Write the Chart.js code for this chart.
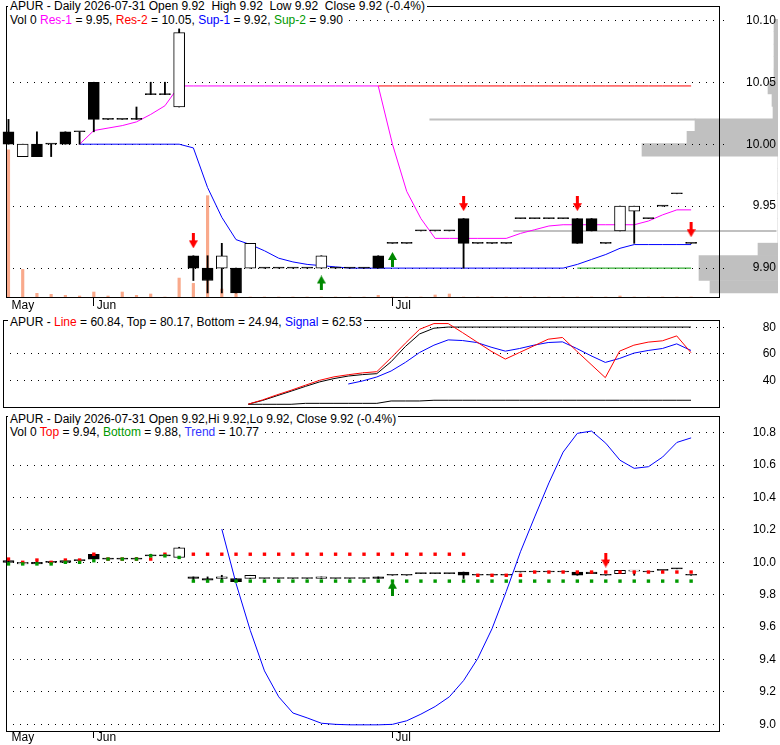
<!DOCTYPE html>
<html>
<head>
<meta charset="utf-8">
<script src="https://cdn.jsdelivr.net/npm/chart.js@4.4.1/dist/chart.umd.min.js"></script>
<style>
  body { margin: 0; background: #fff; }
  #wrap { position: relative; width: 780px; height: 745px; overflow: hidden;
          font-family: 'Liberation Sans', Arial, sans-serif; font-size: 12px; }
  canvas { position: absolute; left: 0; }
  .t { position: absolute; left: 8px; padding: 0 2px; background: #fff; color: #000;
       white-space: pre; line-height: 14px; font-size: 12px; }
</style>
</head>
<body>
<div id="wrap">
  <canvas id="prof" width="780" height="315" style="top:0"></canvas>
  <canvas id="c1" width="780" height="315" style="top:0"></canvas>
  <canvas id="c2" width="780" height="100" style="top:310px"></canvas>
  <canvas id="c3" width="780" height="335" style="top:410px"></canvas>
  <div class="t" id="t1a" style="top:-1px"></div>
  <div class="t" id="t1b" style="top:13px"></div>
  <div class="t" id="t2a" style="top:315px"></div>
  <div class="t" id="t3a" style="top:412px"></div>
  <div class="t" id="t3b" style="top:425px"></div>
</div>
<script>
const FONT = "'Liberation Sans', Arial, sans-serif";

// trading days
const dates = [
  '2026-05-21','2026-05-22','2026-05-26','2026-05-27','2026-05-28','2026-05-29',
  '2026-06-01','2026-06-02','2026-06-03','2026-06-04','2026-06-05',
  '2026-06-08','2026-06-09','2026-06-10','2026-06-11','2026-06-12',
  '2026-06-15','2026-06-16','2026-06-17','2026-06-18',
  '2026-06-22','2026-06-23','2026-06-24','2026-06-25','2026-06-26',
  '2026-06-29','2026-06-30',
  '2026-07-01','2026-07-02','2026-07-06','2026-07-07','2026-07-08','2026-07-09','2026-07-10',
  '2026-07-13','2026-07-14','2026-07-15','2026-07-16','2026-07-17',
  '2026-07-20','2026-07-21','2026-07-22','2026-07-23','2026-07-24',
  '2026-07-27','2026-07-28','2026-07-29','2026-07-30','2026-07-31'
];
const monthNames = ['Jan','Feb','Mar','Apr','May','Jun','Jul','Aug','Sep','Oct','Nov','Dec'];

// prices
const open = [10.01, 9.99, 10.00, 10.00, 10.01, 10.01, 10.05, 10.02, 10.02, 10.02, 10.04, 10.04, 10.03,
  9.91, 9.90, 9.90, 9.90, 9.90, 9.90, 9.90, 9.90, 9.90, 9.90, 9.90, 9.90, 9.90, 9.91,
  9.92, 9.92, 9.93, 9.93, 9.93, 9.94, 9.92, 9.92, 9.92, 9.94, 9.94, 9.94, 9.94, 9.94, 9.94, 9.92,
  9.93, 9.946, 9.94, 9.95, 9.96, 9.92];
const high = [10.02, 10.00, 10.01, 10.00, 10.01, 10.01, 10.05, 10.02, 10.02, 10.03, 10.05, 10.05, 10.093,
  9.91, 9.91, 9.92, 9.90, 9.92, 9.90, 9.90, 9.90, 9.90, 9.91, 9.90, 9.90, 9.90, 9.91,
  9.92, 9.92, 9.93, 9.93, 9.93, 9.94, 9.92, 9.92, 9.92, 9.94, 9.94, 9.94, 9.94, 9.94, 9.94, 9.92,
  9.95, 9.95, 9.94, 9.95, 9.96, 9.92];
const low = [10.00, 9.99, 9.99, 9.99, 10.00, 10.00, 10.01, 10.02, 10.02, 10.02, 10.04, 10.04, 10.03,
  9.89, 9.88, 9.88, 9.88, 9.90, 9.90, 9.90, 9.90, 9.90, 9.90, 9.90, 9.90, 9.90, 9.90,
  9.92, 9.92, 9.93, 9.93, 9.93, 9.90, 9.92, 9.92, 9.92, 9.94, 9.94, 9.94, 9.94, 9.92, 9.93, 9.92,
  9.93, 9.92, 9.94, 9.95, 9.96, 9.92];
const close = [10.00, 10.00, 9.99, 10.00, 10.00, 10.01, 10.02, 10.02, 10.02, 10.02, 10.04, 10.04, 10.09,
  9.90, 9.89, 9.91, 9.88, 9.92, 9.90, 9.90, 9.90, 9.90, 9.91, 9.90, 9.90, 9.90, 9.90,
  9.92, 9.92, 9.93, 9.93, 9.93, 9.92, 9.92, 9.92, 9.92, 9.94, 9.94, 9.94, 9.94, 9.92, 9.93, 9.92,
  9.95, 9.95, 9.94, 9.95, 9.96, 9.92];
const volume = [4430, 830, 110, 80, 50, 30, 150, 30, 150, 50, 90, 0, 570,
  410, 3050, 240, 140, 0, 0, 0, 0, 0, 0, 0, 0, 0, 50,
  0, 0, 0, 60, 90, 0, 0, 0, 0, 0, 0, 0, 0, 0, 0, 0,
  30, 0, 0, 0, 0, 0];

// support / resistance
const res1 = [null, null, null, null, null, 10.000, 10.011, 10.013, 10.015, 10.018, 10.024, 10.031, 10.047,
  10.047, 10.047, 10.047, 10.047, 10.047, 10.047, 10.047, 10.047, 10.047, 10.047, 10.047, 10.047, 10.047, 10.047,
  10.000, 9.962, 9.940, 9.924, 9.924, 9.924, 9.924, 9.924, 9.924, 9.928, 9.931, 9.934, 9.935, 9.935, 9.935, 9.935,
  9.935, 9.935, 9.938, 9.943, 9.947, 9.947];
const res2 = [null, null, null, null, null, null, null, null, null, null, null, null, null,
  null, null, null, null, null, null, null, null, null, null, null, null, null, 10.047,
  10.047, 10.047, 10.047, 10.047, 10.047, 10.047, 10.047, 10.047, 10.047, 10.047, 10.047, 10.047, 10.047, 10.047, 10.047, 10.047,
  10.047, 10.047, 10.047, 10.047, 10.047, 10.047];
const sup1 = [null, null, null, null, null, 10.00, 10.00, 10.00, 10.00, 10.00, 10.00, 10.00, 10.00,
  9.997, 9.965, 9.941, 9.923, 9.919, 9.914, 9.908, 9.905, 9.903, 9.902, 9.901, 9.900, 9.900, 9.900,
  9.90, 9.90, 9.90, 9.90, 9.90, 9.90, 9.90, 9.90, 9.90, 9.90, 9.90, 9.90, 9.90, 9.903, 9.907, 9.911,
  9.916, 9.919, 9.919, 9.919, 9.919, 9.919];
const sup2 = [null, null, null, null, null, null, null, null, null, null, null, null, null,
  null, null, null, null, null, null, null, null, null, null, null, null, null, null,
  null, null, null, null, null, null, null, null, null, null, null, null, null, 9.90, 9.90, 9.90,
  9.90, 9.90, 9.90, 9.90, 9.90, 9.90];
const sellIdx = [13, 32, 40, 48];
const sellAt = [9.922, 9.952, 9.952, 9.931];
const buyIdx = [22, 27];
const buyAt = [9.888, 9.907];
const levelPrice = [10.02, 9.93];
const levelFrom = [29.6, 35.5];
const levelTo = [48.3, 54];

// volume at price
const profMid = [9.885, 9.895, 9.905, 9.915, 9.925, 9.935, 9.945, 9.955, 9.965, 9.975, 9.985,
  9.995, 10.005, 10.015, 10.025, 10.035, 10.045, 10.055, 10.065, 10.075, 10.085, 10.095];
const profVol = [68, 79, 79, 20, 0, 0, 0, 0, 0, 0, 0,
  136, 91, 83, 5, 6, 10, 4, 4, 4, 4, 4];

// oscillator
const oscLine = [null, null, null, null, null, null, null, null, null, null, null, null, null,
  null, null, null, null, 22, 25.2, 29, 32.5, 36.3, 40, 42.6, 44.2, 45.6, 46.5,
  57, 68, 78.5, 82.8, 82.8, 76, 69, 62, 56, 61, 66, 71, 72.3, 62, 52, 42,
  62, 66.5, 68.8, 69.8, 73.5, 60.84];
const oscTop = [null, null, null, null, null, null, null, null, null, null, null, null, null,
  null, null, null, null, 22, 24.8, 28.3, 31.8, 35.4, 38.8, 41.3, 43.2, 44.3, 45,
  54, 65.5, 75, 79.3, 80.17, 80.17, 80.17, 80.17, 80.17, 80.17, 80.17, 80.17, 80.17, 80.17, 80.17, 80.17,
  80.17, 80.17, 80.17, 80.17, 80.17, 80.17];
const oscBottom = [null, null, null, null, null, null, null, null, null, null, null, null, null,
  null, null, null, null, 21.9, 21.9, 21.9, 21.9, 22.6, 22.6, 22.6, 22.6, 22.6, 22.6,
  24.4, 24.4, 24.4, 24.94, 24.94, 24.94, 24.94, 24.94, 24.94, 24.94, 24.94, 24.94, 24.94, 24.94, 24.94, 24.94,
  24.94, 24.94, 24.94, 24.94, 24.94, 24.94];
const oscSignal = [null, null, null, null, null, null, null, null, null, null, null, null, null,
  null, null, null, null, null, null, null, null, null, null, null, 37.2, 39.5, 42.5,
  47, 53.5, 61, 66.5, 70.5, 70, 68.5, 65, 62, 64, 66.5, 68.5, 69, 64, 58.5, 53.5,
  56.5, 60.5, 62.5, 64, 67.5, 62.53];

// lower price panel
const bandTop = [10.02, 10.00, 10.014, 10.00, 10.014, 10.014, 10.05, 10.02, 10.02, 10.02, 10.02, 10.05, null,
  10.05, 10.05, 10.05, 10.05, 10.05, 10.05, 10.05, 10.05, 10.05, 10.05, 10.05, 10.05, 10.05, 10.05,
  10.05, 10.05, 10.05, 10.05, 10.05, 10.05, 9.92, 9.92, 9.92, 9.92, 9.94, 9.94, 9.94, 9.94, 9.94, 9.94,
  9.94, 9.94, 9.94, 9.94, 9.94, 9.94];
const bandBottom = [9.99, 9.99, 9.99, 9.99, 10.00, 10.00, 10.01, 10.02, 10.02, 10.02, 10.04, 10.04, 10.03,
  9.884, 9.884, 9.884, 9.884, 9.884, 9.884, 9.884, 9.884, 9.884, 9.884, 9.884, 9.884, 9.884, 9.884,
  9.884, 9.884, 9.884, 9.884, 9.884, 9.884, 9.884, 9.884, 9.884, 9.884, 9.884, 9.884, 9.884, 9.884, 9.884, 9.884,
  9.884, 9.884, 9.884, 9.884, 9.884, 9.884];
const trend = [null, null, null, null, null, null, null, null, null, null, null, null, null,
  null, null, 10.205, 9.87, 9.58, 9.33, 9.17, 9.07, 9.04, 9.007, 9.0, 8.997, 8.997, 8.997,
  9.0, 9.022, 9.063, 9.11, 9.17, 9.27, 9.407, 9.59, 9.82, 10.065, 10.28, 10.49, 10.68, 10.796, 10.81, 10.735,
  10.63, 10.58, 10.59, 10.65, 10.74, 10.768];
const lowSellIdx = [42];
const lowSellAt = [10.014];
const lowBuyIdx = [27];
const lowBuyAt = [9.84];

// axis ticks and ranges
const priceTicks = [9.90, 9.95, 10.00, 10.05, 10.10];
const oscTicks = [40, 60, 80];
const lowerTicks = [9.0, 9.2, 9.4, 9.6, 9.8, 10.0, 10.2, 10.4, 10.6, 10.8];
const priceRange = [9.8767, 10.1115];
const oscRange = [19.85, 85.5];
const lowerRange = [8.959, 10.903];
const xRange = [-0.175, 49.961];
const volAxisMax = 8760;
const profAxisMax = 778;

// ---------- helpers ----------
const last = close.length - 1;
const f2 = v => v.toFixed(2);
const xy = arr => arr.map((v, i) => ({x: i, y: v}));
const at = (idx, vals) => idx.map((i, k) => ({x: i, y: vals[k]}));
const monthStarts = dates.map((d, i) => i).filter(i => i === 0 || dates[i].slice(5, 7) !== dates[i - 1].slice(5, 7));
const monthLabel = v => monthNames[parseInt(dates[Math.round(v)].slice(5, 7), 10) - 1];

function arrowImage(color, up) {
  const c = document.createElement('canvas');
  c.width = 9; c.height = 15;
  const g = c.getContext('2d');
  g.fillStyle = color;
  g.beginPath();
  if (up) {
    g.moveTo(4.5, 0); g.lineTo(9, 8); g.lineTo(0, 8);
    g.closePath(); g.fill();
    g.fillRect(3, 8, 3, 7);
  } else {
    g.fillRect(3, 0, 3, 7);
    g.moveTo(0, 7); g.lineTo(9, 7); g.lineTo(4.5, 15);
    g.closePath(); g.fill();
  }
  return c;
}
const redArrow = arrowImage('#ff0000', false);
const greenArrow = arrowImage('#008800', true);

const boxPlugin = {
  id: 'box',
  afterDraw(chart) {
    const {ctx, chartArea: a} = chart;
    ctx.save();
    ctx.strokeStyle = '#000';
    ctx.lineWidth = 1;
    ctx.strokeRect(a.left + 0.5, a.top + 0.5, a.right - a.left, a.bottom - a.top);
    ctx.restore();
  }
};

function candleSets() {
  return [
    { type: 'bar', data: low.map((l, i) => ({x: i, y: [l, high[i]]})),
      backgroundColor: '#000', borderWidth: 0, barThickness: 1.2, grouped: false, order: 4, clip: false },
    { type: 'bar', data: open.map((o, i) => ({x: i, y: [Math.min(o, close[i]), Math.max(o, close[i])]})),
      backgroundColor: open.map((o, i) => close[i] > o ? '#fff' : '#000'),
      borderColor: '#000', borderWidth: 1, borderSkipped: false, barThickness: 11, minBarLength: 1,
      grouped: false, order: 3, clip: false }
  ];
}

function lineSet(arr, color, order, extra) {
  return Object.assign({ type: 'line', data: xy(arr), borderColor: color, borderWidth: 1,
    pointRadius: 0, tension: 0, fill: false, order: order }, extra || {});
}

function arrowSet(idx, vals, img) {
  return { type: 'scatter', data: at(idx, vals), pointStyle: img, pointRadius: 5, order: 0, clip: false };
}

function xAxis(show, height, tickLen, pad) {
  return {
    type: 'linear', min: xRange[0], max: xRange[1], offset: false, display: show,
    afterBuildTicks: s => { s.ticks = monthStarts.map(v => ({value: v})); },
    afterFit: s => { s.height = height; s.paddingLeft = 0; s.paddingRight = 0; },
    ticks: { callback: v => monthLabel(v), align: 'start', labelOffset: 3, padding: pad,
             autoSkip: false, maxRotation: 0, color: '#000', font: {family: FONT, size: 12} },
    grid: { drawOnChartArea: false, drawTicks: true, tickLength: tickLen, offset: false,
            tickColor: c => c.index === 0 ? 'rgba(0,0,0,0)' : '#000' },
    border: { display: false }
  };
}

// right axis: 57px wide plus 4px layout padding, labels right-aligned on its far edge
function yAxis(range, ticks, digits) {
  return {
    type: 'linear', position: 'right', min: range[0], max: range[1],
    afterBuildTicks: s => { s.ticks = ticks.map(v => ({value: v})); },
    afterFit: s => { s.width = 57; s.paddingTop = 0; s.paddingBottom = 0; },
    ticks: { callback: v => v.toFixed(digits), crossAlign: 'far', padding: 4,
             color: '#000', font: {family: FONT, size: 12} },
    grid: { color: '#000', lineWidth: 1, tickLength: 6, tickColor: '#000', tickBorderDash: [1, 3] },
    border: { display: false, dash: [1, 6] }
  };
}

const common = {
  responsive: false, animation: false, events: [], devicePixelRatio: 1,
  plugins: { legend: { display: false }, tooltip: { enabled: false } }
};

// ---------- volume at price (drawn underneath the price panel) ----------
new Chart(document.getElementById('prof'), {
  type: 'bar',
  data: { datasets: [{
    data: profMid.map((p, i) => ({x: profVol[i], y: p})),
    backgroundColor: '#c0c0c0', borderWidth: 0,
    barThickness: 'flex', categoryPercentage: 1, barPercentage: 1
  }]},
  options: Object.assign({}, common, {
    indexAxis: 'y',
    layout: { padding: { top: 5, bottom: 18, left: 0, right: 2 } },
    scales: {
      y: { type: 'linear', min: priceRange[0], max: priceRange[1], display: false, offset: false },
      x: { type: 'linear', min: 0, max: profAxisMax, reverse: true, display: false }
    }
  })
});

// ---------- price panel ----------
const levelSets = levelPrice.map((p, k) => ({
  type: 'line', data: [{x: levelFrom[k], y: p}, {x: levelTo[k], y: p}],
  borderColor: '#c0c0c0', borderWidth: 2, pointRadius: 0, order: 9, clip: false
}));

new Chart(document.getElementById('c1'), {
  type: 'bar',
  data: { datasets: [
    { type: 'bar', data: xy(volume), yAxisID: 'yv', backgroundColor: '#f9a98b',
      barThickness: 2.5, grouped: false, order: 10 },
    ...levelSets,
    lineSet(res2, '#ff0000', 8),
    lineSet(sup1, '#0000ff', 7),
    lineSet(sup2, '#009900', 6),
    lineSet(res1, '#ff00ff', 5),
    ...candleSets(),
    arrowSet(sellIdx, sellAt, redArrow),
    arrowSet(buyIdx, buyAt, greenArrow)
  ]},
  options: Object.assign({}, common, {
    layout: { padding: { left: 3, top: 5, right: 4, bottom: 0 } },
    scales: {
      x: xAxis(true, 18, 9, -7.7),
      y: yAxis(priceRange, priceTicks, 2),
      yv: { type: 'linear', display: false, min: 0, max: volAxisMax }
    }
  }),
  plugins: [boxPlugin]
});

// ---------- oscillator panel ----------
new Chart(document.getElementById('c2'), {
  type: 'line',
  data: { datasets: [
    lineSet(oscBottom, '#000', 4),
    lineSet(oscTop, '#000', 3),
    lineSet(oscSignal, '#0000ff', 2),
    lineSet(oscLine, '#ff0000', 1)
  ]},
  options: Object.assign({}, common, {
    layout: { padding: { left: 3, top: 10, right: 4, bottom: 3 } },
    scales: {
      x: xAxis(false, 0, 0, 0),
      y: yAxis(oscRange, oscTicks, 0)
    }
  }),
  plugins: [boxPlugin]
});

// ---------- lower price panel ----------
const dotSet = (arr, color) => ({ type: 'scatter', data: xy(arr), pointStyle: 'rect', pointRadius: 2.4,
  pointBorderWidth: 0, backgroundColor: color, borderColor: color, order: 1 });

new Chart(document.getElementById('c3'), {
  type: 'bar',
  data: { datasets: [
    ...candleSets(),
    lineSet(trend, '#0000ff', 2),
    dotSet(bandBottom, '#009900'),
    dotSet(bandTop, '#ff0000'),
    arrowSet(lowSellIdx, lowSellAt, redArrow),
    arrowSet(lowBuyIdx, lowBuyAt, greenArrow)
  ]},
  options: Object.assign({}, common, {
    layout: { padding: { left: 3, top: 6, right: 4, bottom: 0 } },
    scales: {
      x: xAxis(true, 14, 7, -7.2),
      y: yAxis(lowerRange, lowerTicks, 1)
    }
  }),
  plugins: [boxPlugin]
});

// ---------- titles ----------
const chg = ((close[last] / close[last - 1] - 1) * 100).toFixed(1);
const sp = (c, t) => `<span style="color:${c}">${t}</span>`;
document.getElementById('t1a').textContent =
  `APUR - Daily ${dates[last]} Open ${f2(open[last])}  High ${f2(high[last])}  Low ${f2(low[last])}  Close ${f2(close[last])} (${chg}%)`;
document.getElementById('t1b').innerHTML =
  `Vol ${volume[last]} ${sp('#ff00ff', 'Res-1')} = ${f2(res1[last])}, ${sp('#ff0000', 'Res-2')} = ${f2(res2[last])}, ` +
  `${sp('#0000ff', 'Sup-1')} = ${f2(sup1[last])}, ${sp('#009900', 'Sup-2')} = ${f2(sup2[last])}`;
document.getElementById('t2a').innerHTML =
  `APUR - ${sp('#ff0000', 'Line')} = ${f2(oscLine[last])}, Top = ${f2(oscTop[last])}, Bottom = ${f2(oscBottom[last])}, ${sp('#0000ff', 'Signal')} = ${f2(oscSignal[last])}`;
document.getElementById('t3a').textContent =
  `APUR - Daily ${dates[last]} Open ${f2(open[last])},Hi ${f2(high[last])},Lo ${f2(low[last])}, Close ${f2(close[last])} (${chg}%)`;
document.getElementById('t3b').innerHTML =
  `Vol ${volume[last]} ${sp('#ff0000', 'Top')} = ${f2(bandTop[last])}, ${sp('#009900', 'Bottom')} = ${f2(bandBottom[last])}, ${sp('#3333ff', 'Trend')} = ${f2(trend[last])}`;
</script>
</body>
</html>
